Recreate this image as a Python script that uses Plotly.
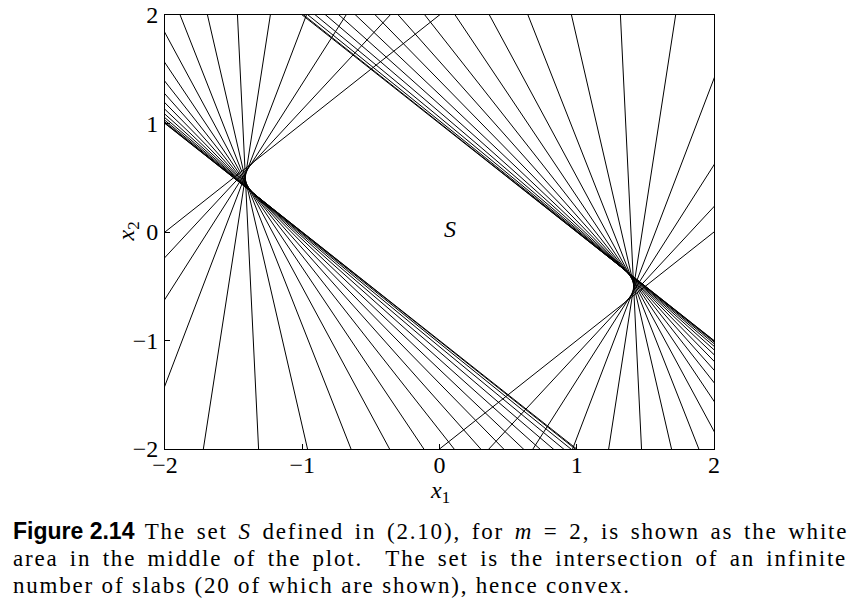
import numpy as np
import plotly.graph_objects as go

# Angles t (degrees) of the 20 slabs  -1 <= x1*cos(t) + x2*cos(2t) <= 1
t_deg = [0.00, 3.16, 6.32, 9.47, 12.63, 15.79, 18.95, 22.11, 25.26, 28.42,
         31.58, 34.74, 37.89, 41.05, 44.21, 47.37, 50.53, 53.68, 56.84, 60.00]
slab_bounds = [1.0, -1.0]
tick_vals = [-2, -1, 0, 1, 2]
tick_text = ["\u22122", "\u22121", "0", "1", "2"]

xs, ys = [], []
for td in t_deg:
    t = np.deg2rad(td)
    a, b = np.cos(t), np.cos(2 * t)
    n2 = a * a + b * b
    d = np.array([-b, a]) / np.sqrt(n2)
    for c in slab_bounds:
        p0 = c * np.array([a, b]) / n2
        p1 = p0 - 8 * d
        p2 = p0 + 8 * d
        xs += [p1[0], p2[0], None]
        ys += [p1[1], p2[1], None]

fig = go.Figure()
fig.add_trace(go.Scatter(x=xs, y=ys, mode="lines",
                         line=dict(color="black", width=1),
                         hoverinfo="skip", showlegend=False))

serif = "Liberation Serif"
axis_common = dict(range=[-2, 2], tickvals=tick_vals, ticktext=tick_text,
                   showgrid=False, zeroline=False, showline=True, mirror=True,
                   linecolor="black", linewidth=1, ticks="inside", ticklen=5,
                   tickcolor="black", tickwidth=1, automargin=False,
                   tickfont=dict(family=serif, size=24, color="black"))
fig.update_xaxes(**axis_common, ticklabelstandoff=-6)
fig.update_yaxes(**axis_common, ticklabelstandoff=1)

ann = []
ann.append(dict(x=0.5, y=-0.099, xref="paper", yref="paper",
                xanchor="center", yanchor="middle",
                text="<i>x</i><sub>1</sub>", showarrow=False,
                font=dict(family=serif, size=24, color="black")))
ann.append(dict(x=-0.0675, y=0.501, xref="paper", yref="paper",
                xanchor="center", yanchor="middle",
                text="<i>x</i><sub>2</sub>", showarrow=False, textangle=-90,
                font=dict(family=serif, size=24, color="black")))
ann.append(dict(x=0.08, y=0.03, xref="x", yref="y", text="<i>S</i>",
                xanchor="center", yanchor="middle",
                showarrow=False, font=dict(family=serif, size=24, color="black")))

fig_label = ('<span style="font-family:Liberation Sans;font-weight:bold;'
             'letter-spacing:0px;word-spacing:0px">Figure 2.14</span>')
caption = [
    fig_label + " The set <i>S</i> defined in (2.10), for <i>m</i> = 2, is shown as the white",
    "area in the middle of the plot.&nbsp; The set is the intersection of an infinite",
    "number of slabs (20 of which are shown), hence convex.",
]
word_sp = [3.2, 3.8, 0.0]
cap_y = [-0.189, -0.252, -0.314]
for line, ws, yy in zip(caption, word_sp, cap_y):
    txt = ('<span style="letter-spacing:1.8px;word-spacing:%.1fpx">' % ws
           + line + '</span>')
    ann.append(dict(x=-0.281, y=yy, xref="paper", yref="paper", text=txt,
                    showarrow=False, xanchor="left", yanchor="middle",
                    font=dict(family=serif, size=23, color="black")))

fig.update_layout(width=868, height=606,
                  margin=dict(l=165, r=154, t=15, b=157),
                  plot_bgcolor="white", paper_bgcolor="white",
                  annotations=ann)

fig.write_html("out.html", config={"displayModeBar": False},
               post_script="document.body.style.margin='0';")
